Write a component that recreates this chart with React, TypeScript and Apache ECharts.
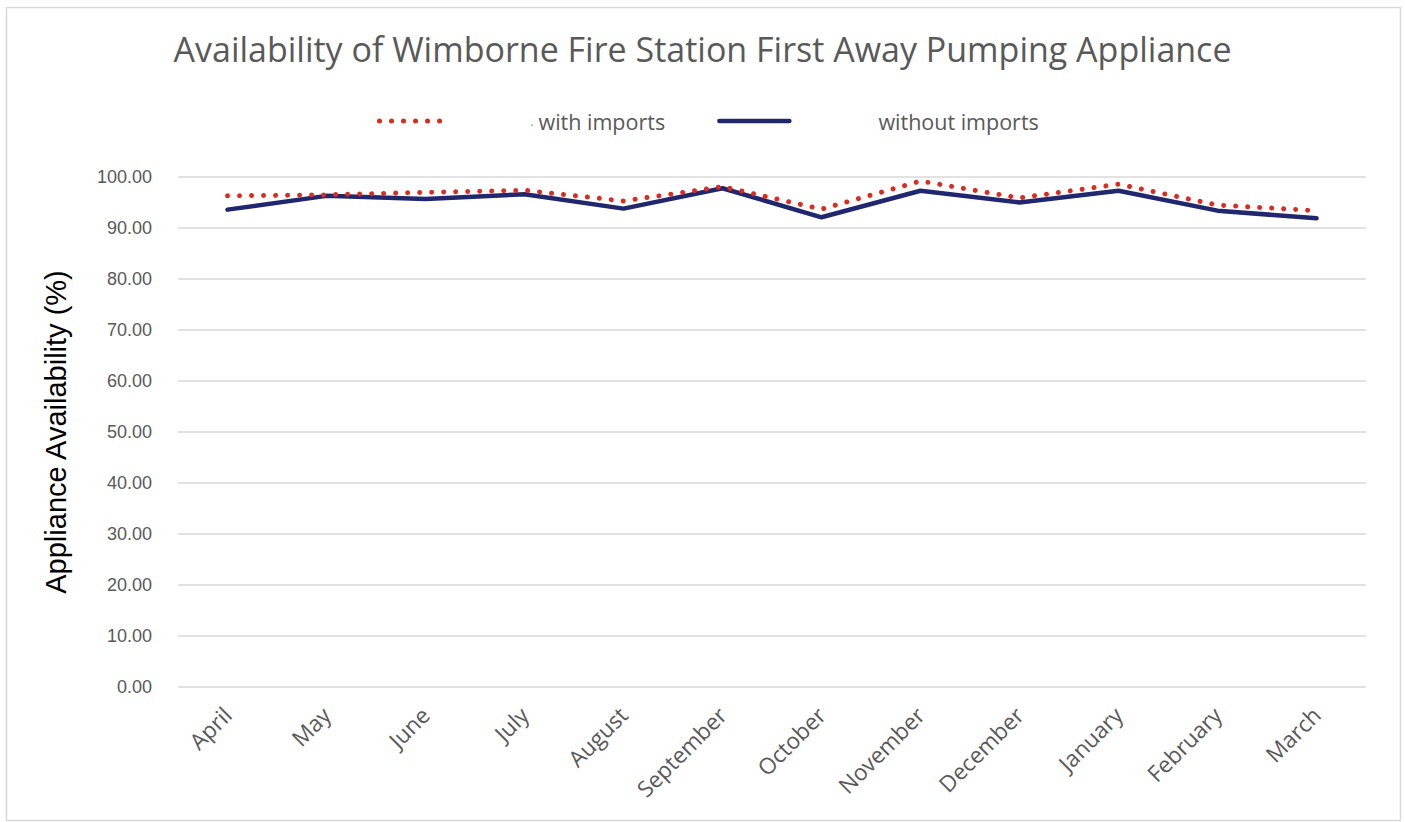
import React, { useEffect, useRef } from "react";
import * as echarts from "echarts";

const categories = ["April", "May", "June", "July", "August", "September", "October", "November", "December", "January", "February", "March"];
const withImports = [96.3, 96.5, 97.0, 97.4, 95.3, 98.1, 93.7, 99.2, 95.9, 98.6, 94.5, 93.4];
const withoutImports = [93.6, 96.3, 95.7, 96.6, 93.8, 97.8, 92.1, 97.3, 95.0, 97.3, 93.4, 91.9];
const yTicks = { min: 0, max: 100, interval: 10 };

const RED = "#d92b20";
const NAVY = "#20276e";

export default function App() {
  const ref = useRef<HTMLDivElement>(null);
  useEffect(() => {
    const chart = echarts.init(ref.current!, null, { renderer: "svg" });
    const grey = "#595959";
    chart.setOption({
      animation: false,
      backgroundColor: "#ffffff",
      title: {
        text: "Availability of Wimborne Fire Station First Away Pumping Appliance",
        left: "center",
        top: 27,
        textStyle: { fontFamily: "Open Sans", fontSize: 34, fontWeight: "normal", color: grey },
      },
      legend: {
        top: 105,
        left: 372,
        itemWidth: 70,
        itemHeight: 14,
        itemGap: 52,
        itemStyle: { opacity: 0 },
        textStyle: {
          fontFamily: "Open Sans",
          fontSize: 21.5,
          color: grey,
          rich: {
            g1: { width: 76 },
            g2: { width: 84 },
            d: { fontSize: 12, color: "#8a8a8a", width: 8 },
          },
        },
        formatter: (name: string) => (name === "with imports" ? `{g1|}{d|.}${name}` : `{g2|}${name}`),
        data: [
          { name: "with imports", itemStyle: { opacity: 0 }, lineStyle: { color: RED, width: 5, type: [0.01, 12], cap: "round" } },
          { name: "without imports", itemStyle: { opacity: 0 }, lineStyle: { color: NAVY, width: 4.5, cap: "round" } },
        ],
      },
      grid: { left: 178, right: 39, top: 177, bottom: 135, containLabel: false },
      xAxis: {
        type: "category",
        data: categories,
        boundaryGap: true,
        axisLine: { show: false },
        axisTick: { show: false },
        axisLabel: {
          rotate: 45,
          margin: 24,
          fontFamily: "Open Sans",
          fontSize: 22.5,
          color: grey,
        },
      },
      yAxis: {
        type: "value",
        min: yTicks.min,
        max: yTicks.max,
        interval: yTicks.interval,
        name: "Appliance Availability (%)",
        nameLocation: "middle",
        nameGap: 108,
        nameTextStyle: { fontFamily: "Liberation Sans", fontSize: 29, color: "#000000" },
        axisLine: { show: false },
        axisTick: { show: false },
        splitLine: { lineStyle: { color: "#d9d9d9", width: 1.5 } },
        axisLabel: {
          formatter: (v: number) => v.toFixed(2),
          margin: 26,
          fontFamily: "Liberation Sans",
          fontSize: 18,
          color: grey,
        },
      },
      series: [
        {
          name: "with imports",
          type: "line",
          data: withImports,
          symbol: "none",
          z: 3,
          lineStyle: { color: RED, width: 5, type: [0.01, 12], cap: "round" },
          itemStyle: { color: RED },
        },
        {
          name: "without imports",
          type: "line",
          data: withoutImports,
          symbol: "none",
          z: 2,
          lineStyle: { color: NAVY, width: 4.5, cap: "round", join: "round" },
          itemStyle: { color: NAVY },
        },
      ],
      graphic: [
        {
          type: "rect",
          left: 4,
          top: 5,
          shape: { width: 1394, height: 813 },
          style: { fill: "none", stroke: "#d9d9d9", lineWidth: 1.5 },
          silent: true,
        },
      ],
    });
    return () => chart.dispose();
  }, []);
  return <div ref={ref} style={{ position: "fixed", left: 0, top: 0, width: 1405, height: 822 }} />;
}
